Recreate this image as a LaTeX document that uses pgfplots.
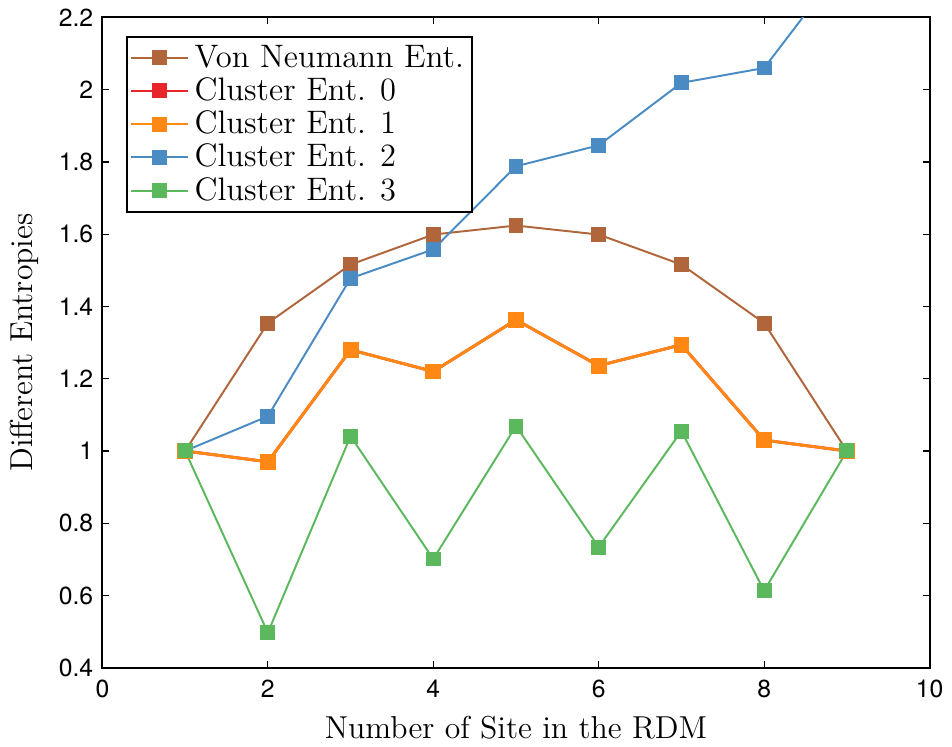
\documentclass[border=0pt]{standalone}
\usepackage{fontspec}
\usepackage{pgfplots}
\pgfplotsset{compat=1.18}
\newfontfamily\heros{TeX Gyre Heros}
\newcommand\tickfont{\heros\fontsize{9.5}{11}\selectfont}
\newcommand\labfont{\fontsize{12.2}{14}\selectfont}
\newcommand\legfont{\fontsize{12.5}{13.4}\selectfont}

\definecolor{cbrown}{RGB}{176,101,58}
\definecolor{cred}{RGB}{232,38,42}
\definecolor{corange}{RGB}{255,136,20}
\definecolor{cblue}{RGB}{74,139,196}
\definecolor{cgreen}{RGB}{92,184,92}

\begin{document}
\begin{tikzpicture}
\begin{axis}[
  scale only axis,
  width=318pt, height=250pt,
  xmin=0, xmax=10, ymin=0.4, ymax=2.2,
  xtick={0,2,4,6,8,10},
  ytick={0.4,0.6,0.8,1,1.2,1.4,1.6,1.8,2,2.2},
  tick pos=both, tick align=inside,
  major tick length=2.7pt,
  axis line style={line width=0.75pt},
  every tick/.style={black, line width=0.5pt},
  /pgf/number format/assume math mode=true,
  tick label style={font=\tickfont},
  xticklabel style={yshift=-1pt},
  xlabel={Number of Site in the RDM},
  ylabel={Different Entropies},
  every axis x label/.style={at={(axis description cs:0.5,-0.092)},
    anchor=center, font=\labfont, inner sep=3pt},
  every axis y label/.style={at={(axis description cs:-0.094,0.5)},
    anchor=center, rotate=90, font=\labfont, inner sep=4pt},
  legend style={at={(0.029,0.971)}, anchor=north west, draw=black,
    line width=0.6pt, font=\legfont,
    inner xsep=1pt, inner ysep=1pt, row sep=-1.5pt},
  legend cell align=left,
  legend image code/.code={%
    \draw[mark repeat=2, mark phase=2, #1, line width=0.75pt]
      plot coordinates {(0cm,0cm) (0.39cm,0cm) (0.78cm,0cm)};},
  every axis plot/.append style={mark=square*, mark size=2.5pt,
    mark options={solid}},
]
\addplot[color=cbrown, line width=0.75pt] coordinates {
  (1,1.000) (2,1.354) (3,1.516) (4,1.599) (5,1.624)
  (6,1.599) (7,1.516) (8,1.354) (9,1.000)};
\addlegendentry{Von Neumann Ent.}
\addplot[color=cred, line width=1.1pt] coordinates {
  (1,1.000) (2,0.970) (3,1.280) (4,1.220) (5,1.363)
  (6,1.236) (7,1.294) (8,1.030) (9,1.000)};
\addlegendentry{Cluster Ent. 0}
\addplot[color=corange, line width=1.1pt] coordinates {
  (1,1.000) (2,0.970) (3,1.280) (4,1.220) (5,1.363)
  (6,1.236) (7,1.294) (8,1.030) (9,1.000)};
\addlegendentry{Cluster Ent. 1}
\addplot[color=cblue, line width=0.75pt] coordinates {
  (1,1.000) (2,1.096) (3,1.478) (4,1.558) (5,1.788)
  (6,1.846) (7,2.019) (8,2.060) (9,2.360)};
\addlegendentry{Cluster Ent. 2}
\addplot[color=cgreen, line width=0.75pt] coordinates {
  (1,1.000) (2,0.497) (3,1.041) (4,0.701) (5,1.069)
  (6,0.734) (7,1.055) (8,0.613) (9,1.000)};
\addlegendentry{Cluster Ent. 3}
\end{axis}
\end{tikzpicture}
\end{document}
